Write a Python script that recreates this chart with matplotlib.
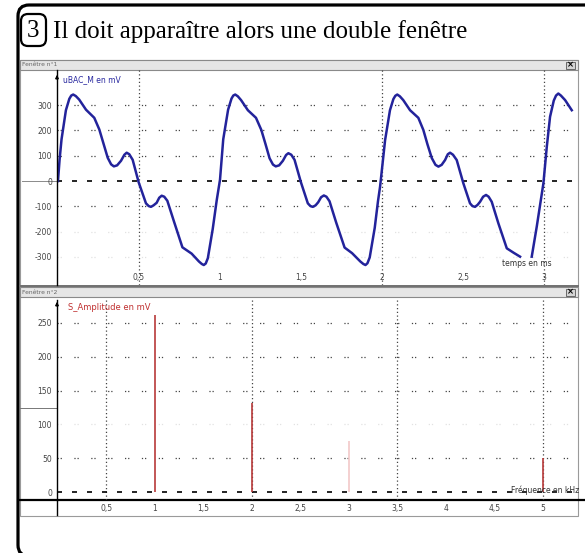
import numpy as np
import matplotlib.pyplot as plt
from matplotlib.patches import FancyBboxPatch, Rectangle

plt.rcParams['font.family'] = 'DejaVu Sans'

# Fenetre 1 : tension relevee (t en ms, u en mV)
temps = [0.000, 0.010, 0.022, 0.049, 0.070, 0.082, 0.094, 0.110, 0.131, 0.173,
         0.224, 0.255, 0.280, 0.307, 0.328, 0.345, 0.365, 0.389, 0.410, 0.424,
         0.440, 0.461, 0.498, 0.543, 0.560, 0.574, 0.590, 0.609, 0.625, 0.640,
         0.656, 0.675, 0.716, 0.768, 0.825, 0.870, 0.888, 0.900, 0.912, 0.925,
         0.955, 0.980,
         1.000, 1.020, 1.050, 1.071, 1.082, 1.094, 1.110, 1.130, 1.172, 1.222,
         1.255, 1.280, 1.306, 1.327, 1.344, 1.365, 1.388, 1.408, 1.422, 1.440,
         1.460, 1.500, 1.542, 1.558, 1.573, 1.590, 1.606, 1.624, 1.641, 1.657,
         1.676, 1.717, 1.769, 1.815, 1.866, 1.885, 1.898, 1.910, 1.924, 1.955,
         1.975,
         1.988, 2.019, 2.049, 2.070, 2.082, 2.094, 2.110, 2.131, 2.173, 2.224,
         2.255, 2.280, 2.307, 2.330, 2.348, 2.368, 2.389, 2.406, 2.420, 2.438,
         2.461, 2.502, 2.543, 2.558, 2.574, 2.590, 2.605, 2.624, 2.642, 2.658,
         2.677, 2.718, 2.770, 2.811, 2.852, 2.888, 2.924, 2.955, 2.996, 3.017,
         3.037, 3.060, 3.074, 3.088, 3.104, 3.130, 3.171]
tension = [0, 85, 165, 280, 325, 338, 342, 336, 322, 282,
           250, 204, 150, 92, 66, 58, 62, 80, 104, 112,
           106, 84, -5, -88, -99, -102, -96, -86, -66, -58,
           -62, -78, -160, -262, -287, -318, -328, -332, -326, -305,
           -190, -75,
           5, 165, 282, 326, 338, 342, 335, 320, 280, 250,
           202, 148, 90, 65, 58, 62, 80, 103, 110, 104,
           84, -6, -88, -99, -102, -96, -84, -64, -57, -62,
           -80, -164, -263, -285, -318, -328, -332, -325, -302, -185,
           -80,
           -22, 162, 280, 324, 337, 342, 335, 320, 280, 250,
           202, 146, 91, 64, 57, 64, 83, 106, 112, 104,
           83, -9, -88, -99, -102, -94, -82, -62, -55, -62,
           -82, -167, -266, -283, -299, np.nan, -299, -180, -9, 136,
           254, 318, 338, 346, 338, 320, 280]

# Fenetre 2 : spectre (f en kHz, amplitude en mV)
freq = [1, 2, 3, 5]
amplitude = [262, 132, 75, 50]

t_ticks = [0.5, 1, 1.5, 2, 2.5, 3]
t_labels = ['0,5', '1', '1,5', '2', '2,5', '3']
u_ticks = [300, 200, 100, 0, -100, -200, -300]
f_ticks = [0.5, 1, 1.5, 2, 2.5, 3, 3.5, 4, 4.5, 5]
f_labels = ['0,5', '1', '1,5', '2', '2,5', '3', '3,5', '4', '4,5', '5']
a_ticks = [250, 200, 150, 100, 50, 0]

W, H = 585, 553
fig = plt.figure(figsize=(W / 100, H / 100), dpi=100)


def box(x0, y0, x1, y1):
    return [x0 / W, 1 - y1 / H, (x1 - x0) / W, (y1 - y0) / H]


# fond en pixels
bg = fig.add_axes([0, 0, 1, 1])
bg.set_xlim(0, W)
bg.set_ylim(H, 0)
bg.axis('off')

bg.add_patch(FancyBboxPatch((18, 5), 640, 551, boxstyle='round,pad=0,rounding_size=11',
                            fc='white', ec='black', lw=2.3))
bg.add_patch(FancyBboxPatch((21, 14), 25, 32, boxstyle='round,pad=0,rounding_size=7',
                            fc='white', ec='black', lw=1.6))
bg.text(33.5, 31, '3', family='Liberation Serif', fontsize=18, ha='center', va='center')
bg.text(53, 38, 'Il doit apparaître alors une double fenêtre', family='Liberation Serif',
        fontsize=18, va='baseline')

# fenetres
for y0, y1, nom in [(60, 286, 'Fenêtre n°1'), (287, 516, 'Fenêtre n°2')]:
    bg.add_patch(Rectangle((20, y0), 558, y1 - y0, fc='white', ec='#9a9a9a', lw=0.8))
    bg.add_patch(Rectangle((20, y0), 558, 10, fc='#e6e6e6', ec='#8a8a8a', lw=0.8))
    bg.text(22, y0 + 5, nom, fontsize=4.3, color='#666666', va='center')
    bg.add_patch(Rectangle((566, y0 + 1.5), 9, 7, fc='#d4d4d4', ec='#555555', lw=0.6))
    bg.text(570.5, y0 + 5, '×', fontsize=6, fontweight='bold', ha='center', va='center')
bg.plot([20, 578], [286, 286], color='#707070', lw=1.4)
bg.plot([22, 57], [181, 181], color='#8a8a8a', lw=0.7)
bg.plot([20, 57], [408, 408], color='#777777', lw=0.7)
bg.plot([20, 585], [500, 500], color='black', lw=1.6)
bg.plot([57, 57], [500, 515], color='black', lw=1.0)

dots = (0, (1, 1.5, 1, 10))
vdots = (0, (1, 2))

# fenetre 1
ax1 = fig.add_axes(box(57, 70, 575, 285))
ax1.patch.set_visible(False)
ax1.set_xlim(-0.006, 3.191)
ax1.set_ylim(-411, 439)
for y in [300, 200, 100, -100]:
    ax1.axhline(y, ls=dots, color='#444444', lw=0.9)
for y in [-200, -300]:
    ax1.axhline(y, ls=dots, color='#e2e2e2', lw=0.9)
for x in [0.5, 2, 3]:
    ax1.axvline(x, ls=vdots, color='#444444', lw=0.9)
ax1.axhline(0, ls=(0, (3, 6)), color='black', lw=1.2)
ax1.plot(temps, tension, color='#23239b', lw=1.8, solid_joinstyle='round')
ax1.set_xticks(t_ticks, t_labels)
ax1.set_yticks(u_ticks, [str(v) for v in u_ticks])
ax1.tick_params(length=0, labelsize=5.5, labelcolor='#444444')
ax1.tick_params(axis='x', pad=-8.5)
ax1.tick_params(axis='y', pad=3.5)
for s in ['top', 'right', 'bottom']:
    ax1.spines[s].set_visible(False)
ax1.spines['left'].set_linewidth(1.0)
ax1.text(0.012, 0.975, 'uBAC_M en mV', transform=ax1.transAxes, color='#2a2aa0',
         fontsize=5.5, va='top')
ax1.text(0.955, 0.10, 'temps en ms', transform=ax1.transAxes, color='#333333',
         fontsize=5.5, ha='right', va='center')

# fenetre 2
ax2 = fig.add_axes(box(57, 300, 575, 500))
ax2.patch.set_visible(False)
ax2.set_xlim(-0.01, 5.33)
ax2.set_ylim(-11.8, 284)
for y in [250, 200, 150, 50]:
    ax2.axhline(y, ls=dots, color='#444444', lw=0.9)
ax2.axhline(100, ls=dots, color='#e2e2e2', lw=0.9)
for x in [0.5, 2, 3.5, 5]:
    ax2.axvline(x, ls=vdots, color='#444444', lw=0.9)
ax2.axhline(0, ls=(0, (3, 6)), color='black', lw=1.2)
ax2.vlines(freq, 0, amplitude, colors=['#b83a3a', '#b83a3a', '#f2c8c8', '#b83a3a'], lw=1.2)
ax2.set_xticks(f_ticks, f_labels)
ax2.set_yticks(a_ticks, [str(v) for v in a_ticks])
ax2.tick_params(length=0, labelsize=5.5, labelcolor='#444444')
ax2.tick_params(axis='x', pad=3)
ax2.tick_params(axis='y', pad=3.5)
for s in ['top', 'right', 'bottom']:
    ax2.spines[s].set_visible(False)
ax2.spines['left'].set_linewidth(1.0)
ax2.text(0.022, 0.985, 'S_Amplitude en mV', transform=ax2.transAxes, color='#c03030',
         fontsize=6, va='top')
ax2.text(1.008, 0.05, 'Fréquence en kHz', transform=ax2.transAxes, color='#333333',
         fontsize=5.5, ha='right', va='center')

bg.annotate('', xy=(57, 72), xytext=(57, 82),
            arrowprops=dict(arrowstyle='-|>', lw=0.8, color='black', mutation_scale=5))
bg.annotate('', xy=(57, 299), xytext=(57, 309),
            arrowprops=dict(arrowstyle='-|>', lw=0.8, color='black', mutation_scale=5))

fig.savefig('out.png', dpi=100)
